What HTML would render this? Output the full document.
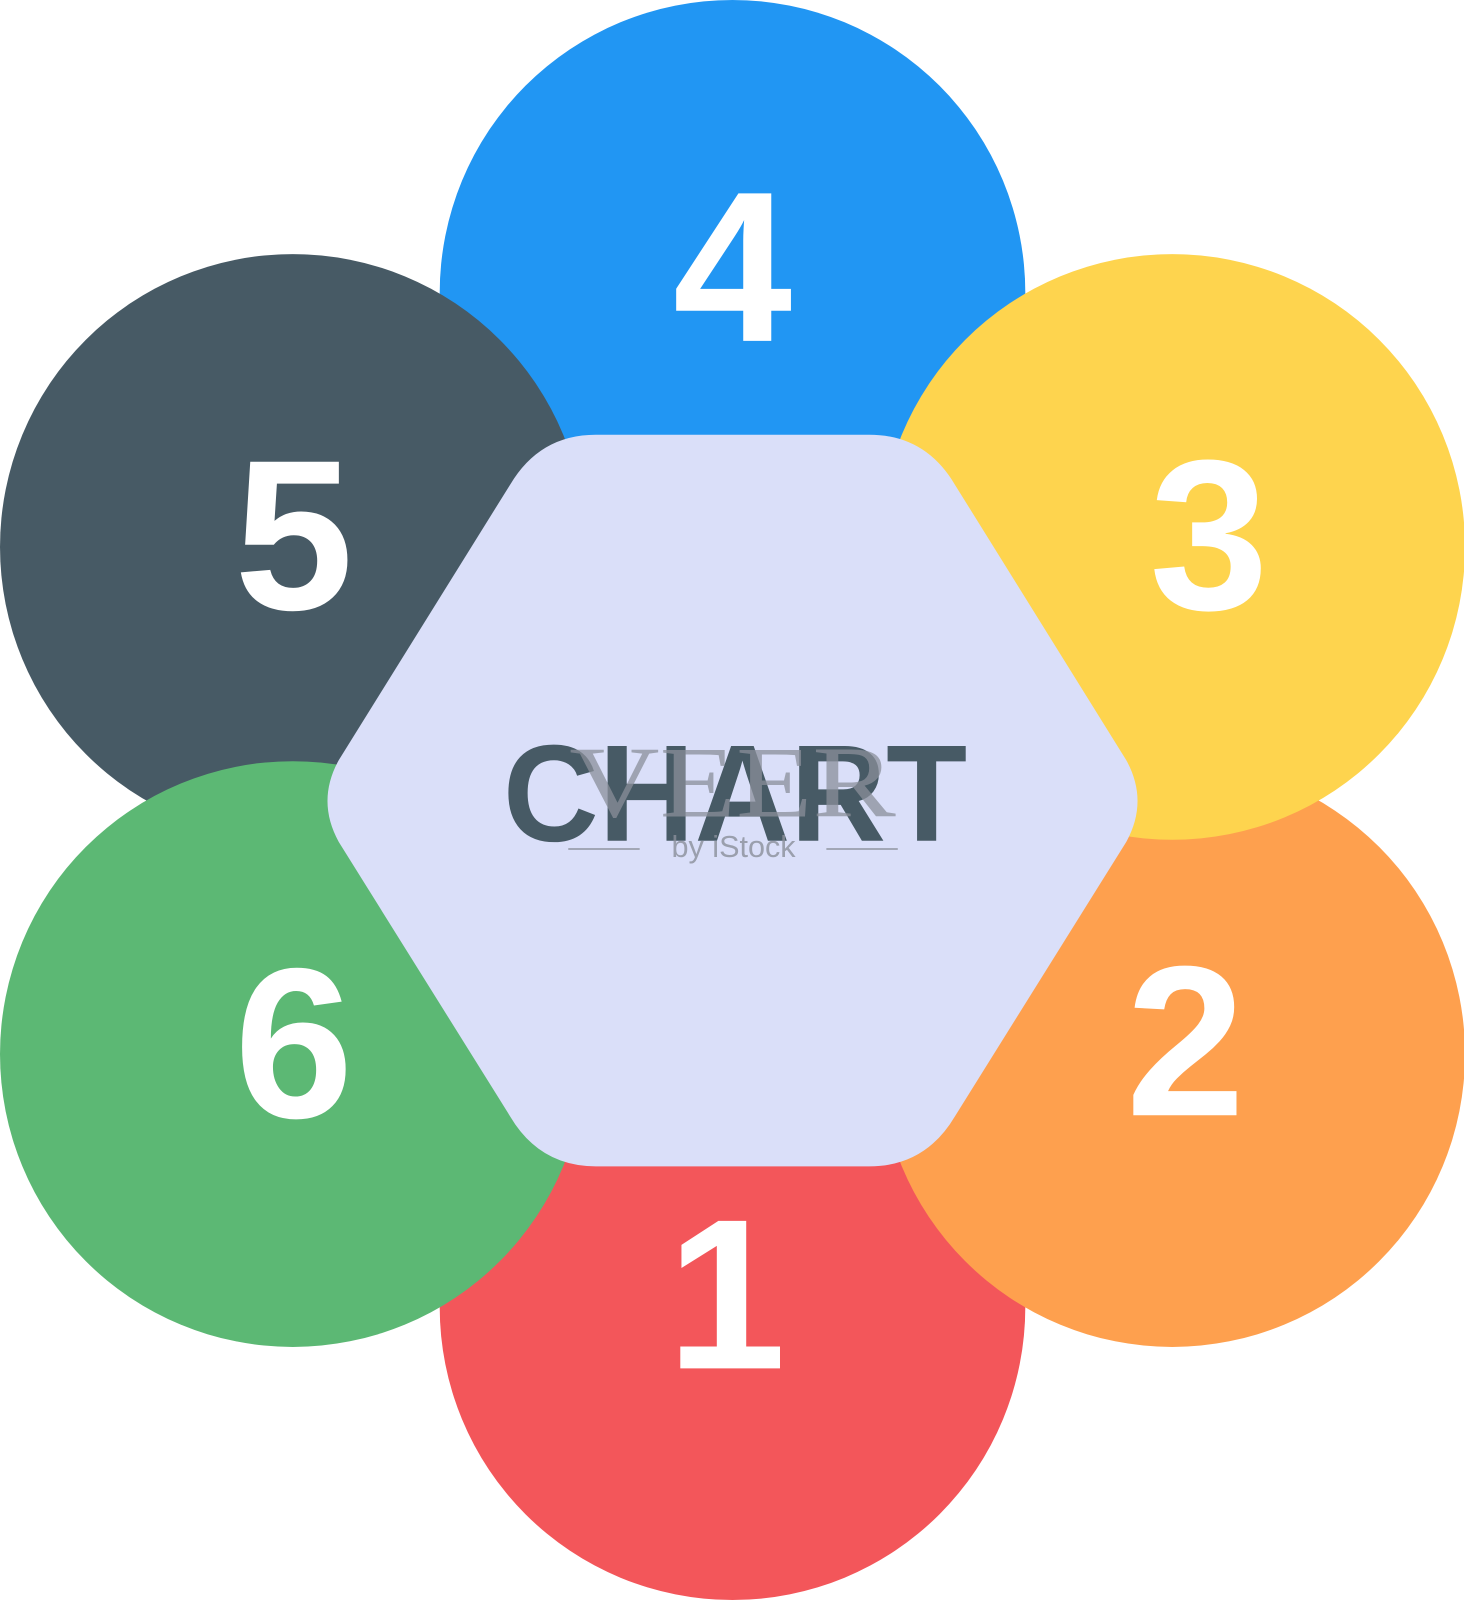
<!DOCTYPE html>
<html><head><meta charset="utf-8"><style>
html,body{margin:0;padding:0;background:#fff;}
svg{display:block;}
</style></head><body>
<svg width="1464" height="1600" viewBox="0 0 1435 1568" preserveAspectRatio="none" xmlns="http://www.w3.org/2000/svg">
<rect width="1435" height="1568" fill="#fff"/>
<circle cx="718" cy="1281" r="287" fill="#f3565a"/>
<circle cx="718" cy="287" r="287" fill="#2196f3"/>
<circle cx="287" cy="536" r="287" fill="#475a65"/>
<circle cx="287" cy="1033" r="287" fill="#5cb874"/>
<circle cx="1149" cy="1033" r="287" fill="#fea04e"/>
<circle cx="1149" cy="536" r="287" fill="#fed44e"/>
<path d="M584,426 L852,426 Q907,426 936,475 L1104,745 Q1126,785 1104,825 L936,1094 Q907,1143 852,1143 L584,1143 Q529,1143 500,1094 L332,825 Q310,785 332,745 L500,475 Q529,426 584,426 Z" fill="#dadff9"/>
<g font-family="Liberation Sans, sans-serif" font-weight="bold" fill="#fff" font-size="210" text-anchor="middle">
<text x="718" y="334">4</text>
<text x="1185" y="597">3</text>
<text x="288" y="597">5</text>
<text x="1162" y="1093">2</text>
<text x="288" y="1095">6</text>
<text x="712" y="1341">1</text>
</g>
<text x="493" y="824" font-family="Liberation Sans, sans-serif" font-weight="bold" font-size="135" fill="#475a65" textLength="455" lengthAdjust="spacingAndGlyphs">CHART</text>
<text x="718" y="800" font-family="Liberation Serif, serif" font-size="100" fill="#8a8f9a" fill-opacity="0.75" text-anchor="middle" textLength="320" lengthAdjust="spacingAndGlyphs">VEER</text>
<text x="719" y="840" font-family="Liberation Sans, sans-serif" font-size="30" fill="#8a8f9a" fill-opacity="0.8" text-anchor="middle">by iStock</text>
<line x1="557" y1="832" x2="627" y2="832" stroke="#8a8f9a" stroke-width="2" stroke-opacity="0.7"/>
<line x1="810" y1="832" x2="880" y2="832" stroke="#8a8f9a" stroke-width="2" stroke-opacity="0.7"/>
</svg>
</body></html>
